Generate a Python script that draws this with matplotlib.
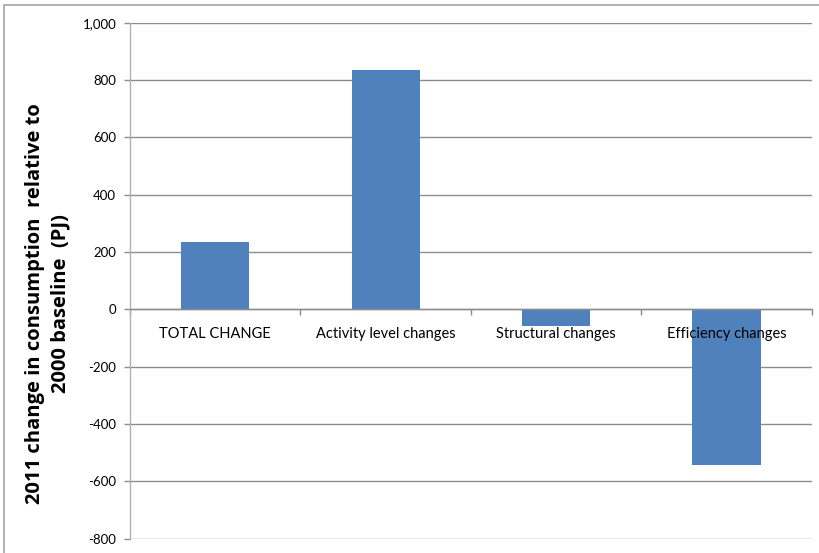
import matplotlib
matplotlib.use("Agg")
import matplotlib.pyplot as plt
from matplotlib.patches import Rectangle
import numpy as np

categories = ["TOTAL CHANGE", "Activity level changes", "Structural changes", "Efficiency changes"]
values = [234, 835, -57, -543]
y_ticks = [-800, -600, -400, -200, 0, 200, 400, 600, 800, 1000]
y_label = "2011 change in consumption  relative to\n2000 baseline  (PJ)"

BAR_COLOR = "#4F81BD"
GRID_COLOR = "#8C8C8C"

plt.rcParams["font.family"] = ["Lato", "DejaVu Sans"]

fig = plt.figure(figsize=(8.19, 5.53), dpi=100)
ax = fig.add_axes([130 / 819, 1 - 538.5 / 553, (811.7 - 130) / 819, (538.5 - 22.7) / 553])

# outer chart border
fig.patches.append(Rectangle((4 / 819, -0.05), 1.2, 1 - 5 / 553 + 0.05,
                             transform=fig.transFigure, fill=False,
                             edgecolor="#A6A6A6", linewidth=1.2, zorder=0))

x = np.arange(len(categories))
ax.bar(x, values, width=0.4, color=BAR_COLOR, zorder=3)

ax.set_xlim(-0.5, len(categories) - 0.5)
ax.set_ylim(-800, 1000)
ax.set_yticks(y_ticks)
ax.set_yticklabels([f"{v:,}" for v in y_ticks], fontsize=9.5)
ax.yaxis.grid(True, color=GRID_COLOR, linewidth=1.0, zorder=0)
ax.set_axisbelow(True)

for side in ("top", "right"):
    ax.spines[side].set_visible(False)
ax.spines["left"].set_color("#B0B0B0")
ax.spines["left"].set_linewidth(1.0)
ax.spines["bottom"].set_position(("data", 0))
ax.spines["bottom"].set_color(GRID_COLOR)
ax.spines["bottom"].set_linewidth(1.0)
ax.spines["bottom"].set_zorder(4)

ax.tick_params(axis="y", length=4, width=1.0, color=GRID_COLOR, pad=6)
ax.set_xticks([])
ax.set_xticks(np.arange(len(categories) + 1) - 0.5, minor=True)
ax.tick_params(axis="x", which="minor", length=4, width=1.0, color=GRID_COLOR,
               direction="out", labelbottom=False)

# category names sit just under the zero line, drawn above the bars
for xi, name in zip(x, categories):
    ax.annotate(name, xy=(xi, 0), xytext=(0, -18), textcoords="offset points",
                ha="center", va="center", fontsize=10.5, zorder=6)

fig.text(48 / 819, 1 - 304 / 553, y_label, rotation=90, ha="center", va="center",
         fontsize=14.5, fontweight="bold", linespacing=1.35,
         family=["Open Sans", "DejaVu Sans"])

fig.savefig("out.png", dpi=100)
